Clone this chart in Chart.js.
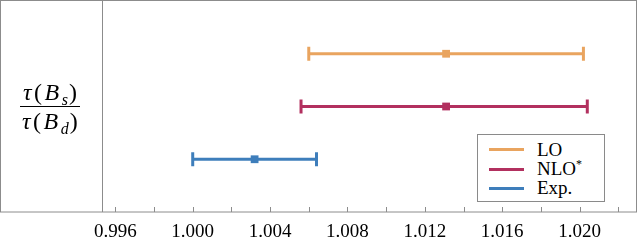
<!DOCTYPE html>
<html>
<head>
<meta charset="utf-8">
<script src="https://cdn.jsdelivr.net/npm/chart.js@4/dist/chart.umd.min.js"></script>
<style>
    html, body { margin: 0; padding: 0; background: #fff; }
    #wrap { position: relative; width: 638px; height: 248px; }
    #ylabel {
        position: absolute; left: 20px; top: 80px;
        font-family: 'Liberation Serif', serif; font-style: italic; font-size: 24px;
        letter-spacing: 2.5px; text-align: center; color: #000; line-height: 25px;
    }
    #ylabel .num { border-bottom: 1.3px solid #000; padding: 0 0 1px 2px; }
    #ylabel .den { padding: 2px 0 0 2px; }
    #ylabel sub { font-size: 16px; vertical-align: -5px; line-height: 0; letter-spacing: 1px; }
    #ylabel .up { font-style: normal; }
    #legend {
        position: absolute; left: 477px; top: 134px; width: 128px; height: 68px;
        border: 1px solid #8a8a8a; background: #fff; box-sizing: border-box;
        font-family: 'Liberation Serif', serif; font-size: 19px; color: #000;
        padding-top: 5px;
    }
    .item { display: flex; align-items: center; height: 19.4px; }
    .swatch { width: 35px; height: 3px; margin-left: 11px; margin-right: 13px; }
    .item sup { font-size: 12px; vertical-align: 7px; line-height: 0; }
</style>
</head>
<body>
<div id="wrap">
    <canvas id="chart" width="638" height="248"></canvas>
    <div id="ylabel">
        <div class="num">τ<span class="up">(</span>B<sub>s</sub><span class="up">)</span></div>
        <div class="den">τ<span class="up">(</span>B<sub>d</sub><span class="up">)</span></div>
    </div>
    <div id="legend"></div>
</div>
<script>
// Data
const seriesNames = ['LO', 'NLO*', 'Exp.'];
const centers = [1.0131, 1.0131, 1.0032];
const lows = [1.0060, 1.0056, 1.0000];
const highs = [1.0202, 1.0204, 1.0064];
const rows = [1, 2, 3];
const tickValues = [0.996, 0.998, 1.000, 1.002, 1.004, 1.006, 1.008, 1.010, 1.012, 1.014, 1.016, 1.018, 1.020, 1.022];
const labeledTicks = [0.996, 1.000, 1.004, 1.008, 1.012, 1.016, 1.020];
const colors = ['#E9A45F', '#B2305F', '#3E7EBB'];

// Legend
const legend = document.getElementById('legend');
legend.innerHTML = seriesNames.map((name, i) => {
    const label = name.endsWith('*') ? name.slice(0, -1) + '<sup>*</sup>' : name;
    return `<div class="item"><div class="swatch" style="background:${colors[i]}"></div><span>${label}</span></div>`;
}).join('');

// Datasets: error bar line with caps, then the centre marker
const datasets = [];
seriesNames.forEach((name, i) => {
    datasets.push({
        label: name,
        data: [{ x: lows[i], y: rows[i] }, { x: highs[i], y: rows[i] }],
        showLine: true,
        borderColor: colors[i],
        borderWidth: 3,
        pointStyle: 'line',
        rotation: 90,
        pointRadius: 7,
        pointBorderWidth: 3,
        pointBorderColor: colors[i],
        pointBackgroundColor: colors[i]
    });
    datasets.push({
        label: name + ' centre',
        data: [{ x: centers[i], y: rows[i] }],
        pointStyle: 'rect',
        pointRadius: 5.5,
        pointBorderWidth: 0,
        pointBackgroundColor: colors[i]
    });
});

// Frame and inward ticks
const framePlugin = {
    id: 'frame',
    afterDraw(chart) {
        const ctx = chart.ctx;
        const area = chart.chartArea;
        const xScale = chart.scales.x;
        ctx.save();
        ctx.strokeStyle = '#8c8c8c';
        ctx.lineWidth = 1;
        ctx.strokeRect(0.5, 0.5, Math.round(area.right) - 1, Math.round(area.bottom) - 0.5);
        ctx.beginPath();
        ctx.moveTo(Math.round(area.left) + 0.5, 0);
        ctx.lineTo(Math.round(area.left) + 0.5, area.bottom);
        tickValues.forEach(v => {
            const px = Math.round(xScale.getPixelForValue(v)) + 0.5;
            ctx.moveTo(px, area.bottom);
            ctx.lineTo(px, area.bottom - 5);
        });
        ctx.stroke();
        ctx.restore();
    }
};

new Chart(document.getElementById('chart').getContext('2d'), {
    type: 'scatter',
    data: { datasets: datasets },
    options: {
        responsive: false,
        animation: false,
        layout: { autoPadding: false, padding: { left: 102, right: 1, top: 1, bottom: 0 } },
        plugins: { legend: { display: false }, tooltip: { enabled: false } },
        scales: {
            x: {
                type: 'linear',
                min: 0.99531,
                max: 1.02297,
                afterBuildTicks: (scale) => { scale.ticks = tickValues.map(v => ({ value: v })); },
                afterFit: (scale) => {
                    scale.paddingLeft = 0;
                    scale.paddingRight = 0;
                    scale.height = 36;
                },
                grid: { display: false, drawTicks: false },
                border: { display: false },
                ticks: {
                    autoSkip: false,
                    maxRotation: 0,
                    padding: 9,
                    color: '#000',
                    font: { family: 'Liberation Serif', size: 19 },
                    callback: (v) => labeledTicks.some(t => Math.abs(t - v) < 1e-9) ? v.toFixed(3) : ''
                }
            },
            y: {
                type: 'linear',
                display: false,
                min: 0,
                max: 4,
                reverse: true
            }
        }
    },
    plugins: [framePlugin]
});
</script>
</body>
</html>
